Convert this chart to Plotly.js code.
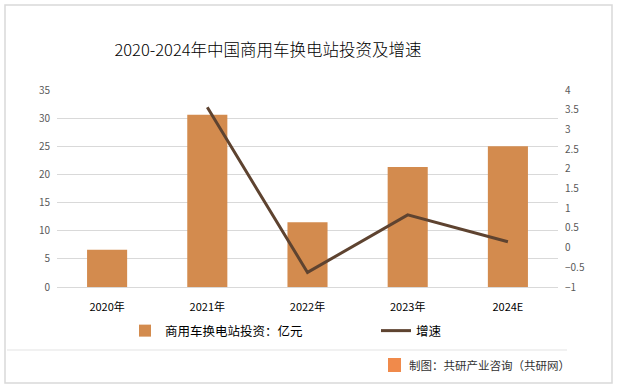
<!DOCTYPE html>
<html><head><meta charset="utf-8">
<script src="https://cdn.plot.ly/plotly-3.0.1.min.js"></script>
<style>body{margin:0;padding:0;background:#fff}#c{width:619px;height:388px}</style>
</head><body><div id="c"></div>
<script>
const years = ["2020年","2021年","2022年","2023年","2024E"];
const investment = [6.6, 30.6, 11.5, 21.3, 25.0];
const growth = [null, 3.56, -0.63, 0.83, 0.15];
const barName = "商用车换电站投资：亿元";
const lineName = "增速";
const leftTicks = [0,5,10,15,20,25,30,35];
const rightTicks = [-1,-0.5,0,0.5,1,1.5,2,2.5,3,3.5,4];

const font = "Noto Sans CJK SC, Noto Sans, sans-serif";
const data = [
  {type:"bar", x:years, y:investment, name:barName, marker:{color:"#D38B4E"}, yaxis:"y", hoverinfo:"skip", legend:"legend"},
  {type:"scatter", mode:"lines", x:years, y:growth, name:lineName, yaxis:"y2",
   line:{color:"#5E4330", width:3}, hoverinfo:"skip", legend:"legend2"}
];
const legFont = {family:font, size:12.5, color:"#000"};
const layout = {
  width:619, height:388,
  margin:{l:57, r:61, t:90, b:101},
  paper_bgcolor:"#fff", plot_bgcolor:"#fff",
  font:{family:font, size:10, color:"#595959"},
  title:{text:"2020-2024年中国商用车换电站投资及增速", font:{family:font, size:16.5, color:"#000", weight:300},
         x:268/619, xanchor:"center", y:1-50/388, yanchor:"middle"},
  bargap:0.6,
  showlegend:true,
  legend:{orientation:"h", x:(125-57)/501, xanchor:"left", y:(287-331)/197, yanchor:"middle", font:legFont},
  legend2:{orientation:"h", x:(376-57)/501, xanchor:"left", y:(287-331)/197, yanchor:"middle", font:legFont},
  xaxis:{type:"category", tickfont:{family:font, size:11, color:"#000"}, showline:true,
         linecolor:"#d9d9d9", ticks:"", showgrid:false, ticklabelstandoff:10},
  yaxis:{range:[0,35], tickvals:leftTicks, showgrid:true, gridcolor:"#d9d9d9", gridwidth:1,
         zeroline:false, tickfont:{size:10,color:"#595959"}, ticks:"", ticklabelstandoff:6},
  yaxis2:{range:[-1,4], tickvals:rightTicks, overlaying:"y", side:"right", showgrid:false,
          zeroline:false, tickfont:{size:10,color:"#595959"}, ticks:"", ticklabelstandoff:6,
          tickformat:".2~f"},
  shapes:[
    {type:"rect", xref:"paper", yref:"paper", x0:-52/501, x1:555/501, y0:(287-383)/197, y1:(287-5)/197,
     line:{color:"#d9d9d9", width:1.5}, fillcolor:"rgba(0,0,0,0)"},
    {type:"line", xref:"paper", yref:"paper", x0:-50/501, x1:510/501, y0:(287-350)/197, y1:(287-350)/197,
     line:{color:"#e3e3e3", width:1}},
    {type:"rect", xref:"paper", yref:"paper", x0:(388-57)/501, x1:(401-57)/501, y0:(287-372)/197, y1:(287-358)/197,
     line:{width:0}, fillcolor:"#F08A4B"}
  ],
  annotations:[
    {xref:"paper", yref:"paper", x:(572-57)/501, xanchor:"right", y:(287-365)/197, yanchor:"middle",
     text:"制图：共研产业咨询（共研网）", showarrow:false, font:{family:font, size:11.5, color:"#333"}}
  ]
};
Plotly.newPlot("c", data, layout, {staticPlot:true, displayModeBar:false});
</script></body></html>
